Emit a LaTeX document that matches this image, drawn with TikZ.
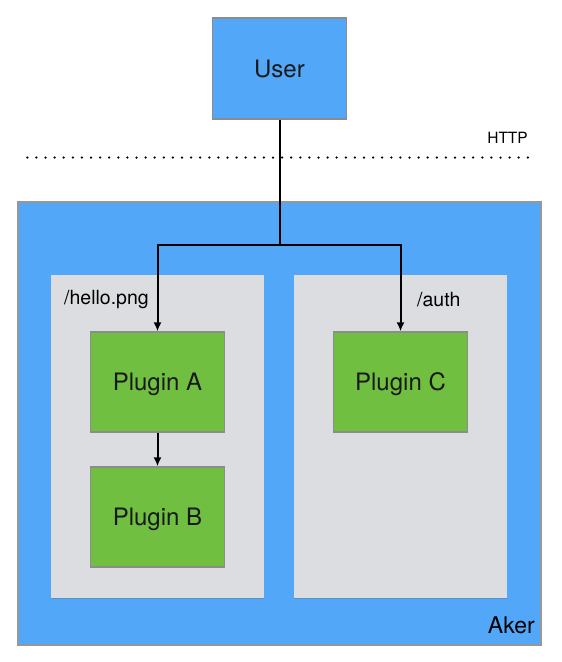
\documentclass[tikz,border=0pt]{standalone}
\usepackage{fontspec}
\setmainfont{TeX Gyre Heros}
\usepackage{xcolor}
\usepackage{tikz}
\usetikzlibrary{calc, arrows.meta, shadows}

\definecolor{akerblue}{RGB}{82,167,249}
\definecolor{plugingreen}{RGB}{112,191,65}
\definecolor{routegray}{RGB}{220,221,224}
\definecolor{edgegray}{RGB}{140,140,140}

\tikzset{
	blockbox/.style = {draw = edgegray, line width = 1.3pt, fill = akerblue, minimum width = 134.5pt, minimum height = 101pt, inner sep = 0pt, text height = 17.2pt, text depth = 0pt, font = \fontsize{24}{28}\selectfont, text = black!90},
	pluginbox/.style = {blockbox, fill = plugingreen, minimum height = 100pt},
	routebox/.style = {fill = routegray, minimum width = 213pt, minimum height = 323pt, inner sep = 0pt, drop shadow = {shadow xshift = 0pt, shadow yshift = -1pt, opacity = 0.35, fill = black!60}},
	pathlabel/.style = {anchor = west, inner sep = 0pt, font = \fontsize{19.5}{23}\selectfont},
}

\begin{document}
\begin{tikzpicture}[x = 1pt, y = -1pt]
					\def\xMIN{0};
					\def\xMAX{562};
					\def\yMIN{0};
					\def\yMAX{662};

					\useasboundingbox (\xMIN,\yMIN) rectangle (\xMAX,\yMAX);

					\begin{scope}
						\node [draw = edgegray!90, line width = 1.5pt, fill = akerblue, minimum width = 523pt, minimum height = 443pt, inner sep = 0pt] (aker) at (279.5,423.5) {};
						\node [anchor = east, inner sep = 0pt, font = \fontsize{23}{27}\selectfont] (akerlabel) at (535,625) {Aker};
					\end{scope}

					\begin{scope}
						\node [routebox] (hello) at (157.5,436.5) {};
						\node [routebox] (auth) at (400.25,436.5) {};
						\node [pathlabel] (hellolabel) at (64,300) {/hello.png};
						\node [pathlabel] (authlabel) at (417,300) {/auth};
					\end{scope}

					\begin{scope}
						\node [blockbox] (user) at (279.5,68.5) {User};
						\node [pluginbox] (pluginA) at (157.5,382) {Plugin A};
						\node [pluginbox] (pluginB) at (157.5,517) {Plugin B};
						\node [pluginbox] (pluginC) at (400.5,382) {Plugin C};
					\end{scope}

					\begin{scope}
						\coordinate (dotl) at (27.3,157.5);
						\coordinate (dotr) at (532,157.5);
						\draw [line width = 2.5pt, line cap = round, dash pattern = on 0pt off 9.1pt] (dotl) -- (dotr);
						\node [anchor = east, inner sep = 0pt, font = \fontsize{15.5}{18}\selectfont] (http) at (528,138) {HTTP};
					\end{scope}

					\begin{scope}[line width = 2pt, -{Latex[length = 9pt, width = 8pt]}]
						\coordinate (split) at (279.5,245);
						\draw [-] (user.south) -- (split);
						\draw (split) -| (pluginA.north);
						\draw (split) -| (pluginC.north);
						\draw (pluginA.south) -- (pluginB.north);
					\end{scope}
				\end{tikzpicture}
\end{document}
